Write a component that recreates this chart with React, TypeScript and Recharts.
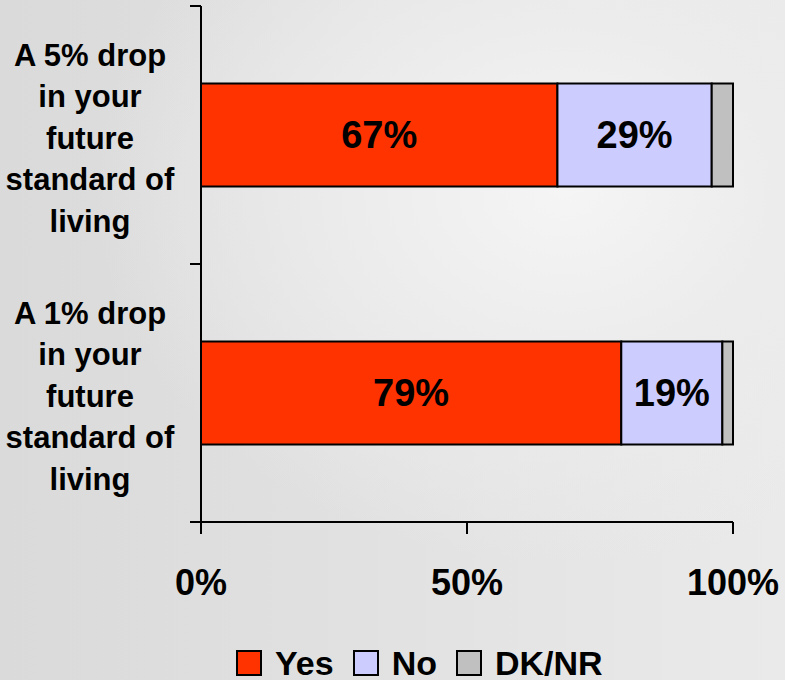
import React from "react";
import { Bar, BarChart, LabelList, Legend, XAxis, YAxis } from "recharts";

const categories = [
  "A 5% drop\nin your\nfuture\nstandard of\nliving",
  "A 1% drop\nin your\nfuture\nstandard of\nliving",
];
const yesValues = [67, 79];
const noValues = [29, 19];
const dkValues = [4, 2];
const xTicks = [0, 50, 100];

const seriesInfo = [
  { key: "yes", name: "Yes", color: "#FF3300" },
  { key: "no", name: "No", color: "#CCCCFF" },
  { key: "dk", name: "DK/NR", color: "#C0C0C0" },
];

const data = categories.map((name, i) => ({
  name,
  yes: yesValues[i],
  no: noValues[i],
  dk: dkValues[i],
}));

const FONT = '"Liberation Sans", Arial, Helvetica, sans-serif';

const CategoryTick = (props: any) => {
  const { x, y, payload, index, visibleTicksCount } = props;
  const half = payload.offset ?? 0;
  const lines = String(payload.value).split("\n");
  const step = 41.5;
  return (
    <g>
      <line x1={x} x2={x + 11} y1={y - half} y2={y - half} stroke="#000" strokeWidth={2} />
      {index === visibleTicksCount - 1 && (
        <line x1={x} x2={x + 11} y1={y + half} y2={y + half} stroke="#000" strokeWidth={2} />
      )}
      <text
        textAnchor="middle"
        fontFamily={FONT}
        fontWeight="bold"
        fontSize={31}
        fill="#000"
      >
        {lines.map((line, i) => (
          <tspan
            key={i}
            x={x - 100}
            y={y + 3 + (i - (lines.length - 1) / 2) * step}
            dominantBaseline="central"
          >
            {line}
          </tspan>
        ))}
      </text>
    </g>
  );
};

const PercentTick = (props: any) => {
  const { x, y, payload } = props;
  return (
    <text
      x={x}
      y={y}
      dy={59}
      textAnchor="middle"
      fontFamily={FONT}
      fontWeight="bold"
      fontSize={36}
      fill="#000"
    >
      {`${payload.value}%`}
    </text>
  );
};

const LegendContent = () => (
  <div
    style={{
      height: 68,
      paddingTop: 33,
      boxSizing: "border-box",
      display: "flex",
      alignItems: "center",
      fontFamily: FONT,
      fontWeight: "bold",
      fontSize: 34,
      lineHeight: 1,
      color: "#000",
    }}
  >
    {seriesInfo.map((s) => (
      <div key={s.key} style={{ display: "flex", alignItems: "center", height: 30, marginRight: 19 }}>
        <span
          style={{
            width: 22,
            height: 22,
            background: s.color,
            border: "2px solid #000",
            marginRight: 13,
            display: "inline-block",
          }}
        />
        <span>{s.name}</span>
      </div>
    ))}
  </div>
);

const App = () => (
  <div
    style={{
      position: "absolute",
      left: 0,
      top: 0,
      width: 785,
      height: 680,
      background:
        "radial-gradient(ellipse 60% 55% at 72% 28%, #f5f5f5 0%, #ececec 45%, rgba(230,230,230,0) 100%), linear-gradient(90deg, #dadada 0%, #e1e1e1 45%, #eaeaea 100%)",
    }}
  >
    <BarChart
      width={785}
      height={680}
      data={data}
      layout="vertical"
      barCategoryGap="30%"
      margin={{ top: 6, right: 52, bottom: 0, left: 0 }}
    >
      <XAxis
        type="number"
        domain={[0, 100]}
        ticks={xTicks}
        interval={0}
        height={90}
        tickSize={12}
        axisLine={{ stroke: "#000", strokeWidth: 2 }}
        tickLine={{ stroke: "#000", strokeWidth: 2 }}
        tick={<PercentTick />}
      />
      <YAxis
        type="category"
        dataKey="name"
        width={201}
        tickSize={11}
        tickMargin={0}
        tickLine={false}
        axisLine={{ stroke: "#000", strokeWidth: 2 }}
        tick={<CategoryTick />}
        interval={0}
      />
      <Legend
        verticalAlign="bottom"
        content={<LegendContent />}
        wrapperStyle={{ left: 236, width: 460, bottom: 0 }}
      />
      {seriesInfo.map((s) => (
        <Bar
          key={s.key}
          dataKey={s.key}
          name={s.name}
          stackId="a"
          fill={s.color}
          stroke="#000"
          strokeWidth={2}
          isAnimationActive={false}
        >
          {s.key !== "dk" && (
            <LabelList
              dataKey={s.key}
              position="center"
              formatter={(v: any) => `${v}%`}
              fill="#000"
              fontFamily={FONT}
              fontWeight="bold"
              fontSize={38}
            />
          )}
        </Bar>
      ))}
    </BarChart>
  </div>
);

export default App;
